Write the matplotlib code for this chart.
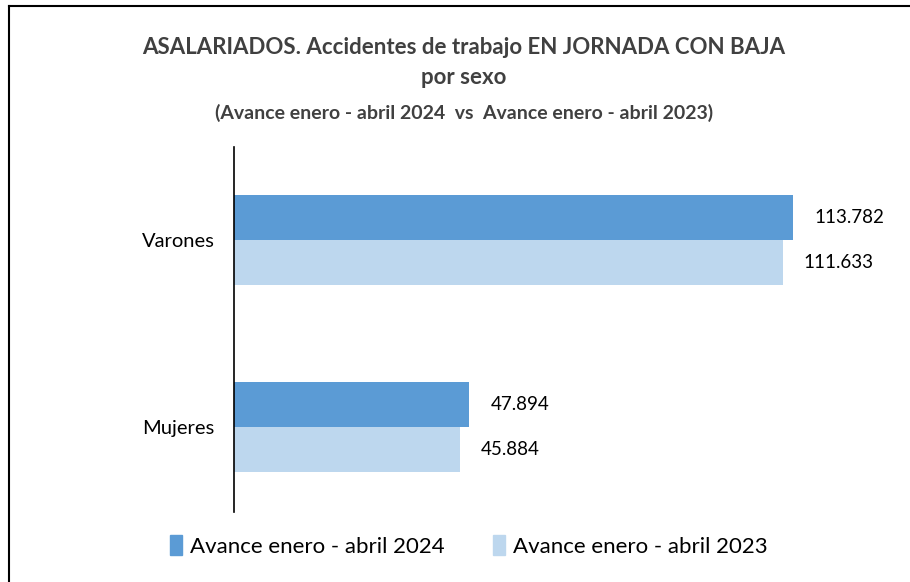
import matplotlib.pyplot as plt
from matplotlib.patches import Patch
from matplotlib.lines import Line2D
import numpy as np

plt.rcParams['font.family'] = ['Lato', 'DejaVu Sans']

# datos
categorias = ['Mujeres', 'Varones']
valores_2024 = [47894, 113782]
valores_2023 = [45884, 111633]
serie_2024 = 'Avance enero - abril 2024'
serie_2023 = 'Avance enero - abril 2023'
color_2024 = '#5B9BD5'
color_2023 = '#BDD7EE'


def fmt(v):
    return '{:,}'.format(v).replace(',', '.')


fig = plt.figure(figsize=(9.1, 5.82), dpi=100)
ax = fig.add_axes([234 / 910, 70 / 582, 639 / 910, 365 / 582])

y = np.arange(len(categorias))
h = 0.24
ax.barh(y + h / 2, valores_2024, height=h, color=color_2024)
ax.barh(y - h / 2, valores_2023, height=h, color=color_2023)

for yi, v in zip(y, valores_2024):
    ax.text(v + 4300, yi + h / 2, fmt(v), va='center', ha='left', fontsize=13.5, color='black')
for yi, v in zip(y, valores_2023):
    ax.text(v + 4300, yi - h / 2, fmt(v), va='center', ha='left', fontsize=13.5, color='black')

ax.set_xlim(0, 130000)
ax.set_ylim(-0.455, 1.497)
ax.set_yticks(y)
ax.set_yticklabels(categorias, fontsize=14.5)
ax.tick_params(axis='y', length=0, pad=14)
ax.set_xticks([])
for s in ['top', 'right', 'bottom']:
    ax.spines[s].set_visible(False)
ax.spines['left'].set_linewidth(1.2)

# titulo
fig.text(0.51, 1 - 47 / 582, 'ASALARIADOS. Accidentes de trabajo EN JORNADA CON BAJA',
         ha='center', va='center', fontsize=16, fontweight='bold', color='#404040')
fig.text(0.51, 1 - 77 / 582, 'por sexo',
         ha='center', va='center', fontsize=16, fontweight='bold', color='#404040')
fig.text(0.51, 1 - 113 / 582, '(Avance enero - abril 2024  vs  Avance enero - abril 2023)',
         ha='center', va='center', fontsize=14, fontweight='bold', color='#404040')

# leyenda
handles = [Patch(color=color_2024, label=serie_2024), Patch(color=color_2023, label=serie_2023)]
fig.legend(handles=handles, loc='center', bbox_to_anchor=(0.515, 1 - 546 / 582), ncol=2,
           frameon=False, fontsize=16, handlelength=0.55, handleheight=1.0,
           handletextpad=0.35, columnspacing=2.2)

# borde (arriba e izquierda)
fig.add_artist(Line2D([9 / 910, 1.0], [1 - 6 / 582, 1 - 6 / 582], transform=fig.transFigure,
                      color='black', linewidth=1.5))
fig.add_artist(Line2D([9 / 910, 9 / 910], [0.0, 1 - 6 / 582], transform=fig.transFigure,
                      color='black', linewidth=1.5))

fig.savefig('out.png', dpi=100)
